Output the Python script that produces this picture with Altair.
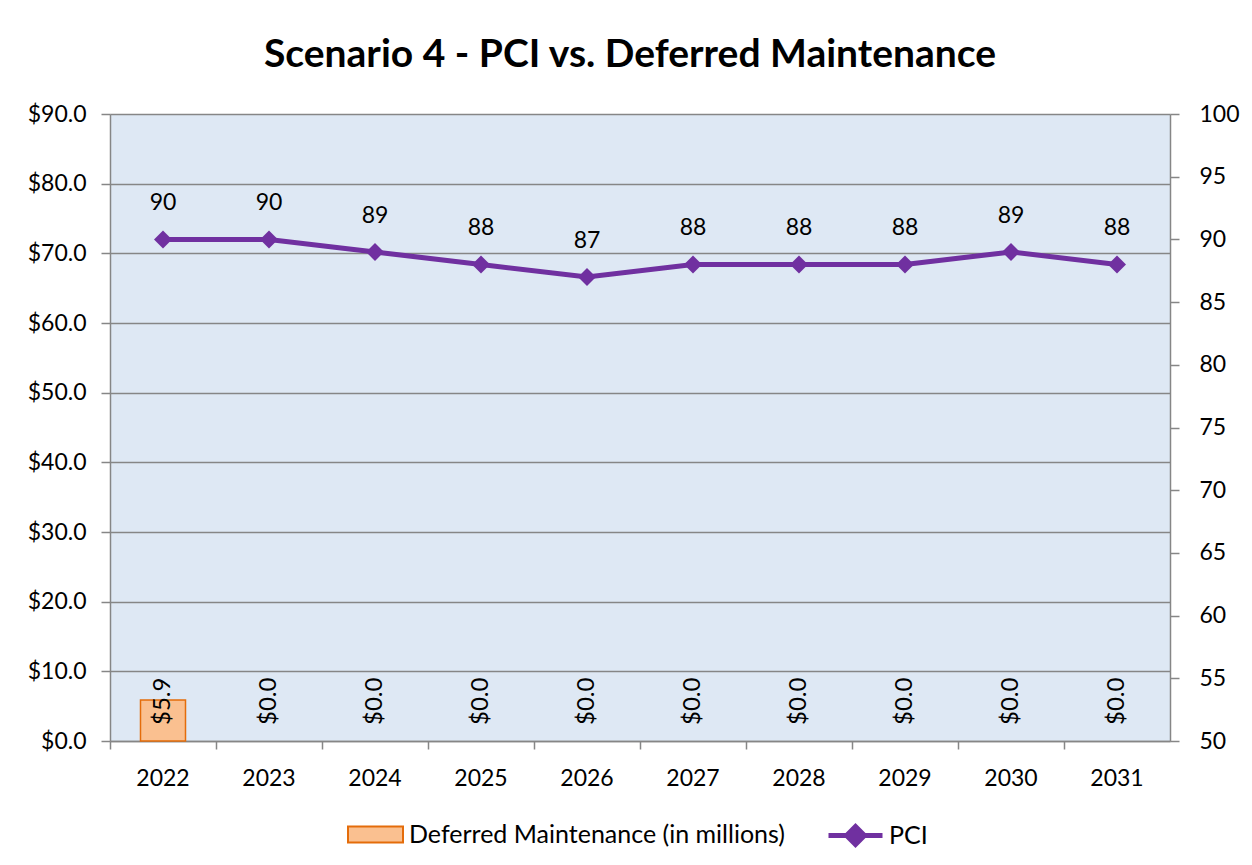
import altair as alt
import pandas as pd

years = ["2022", "2023", "2024", "2025", "2026", "2027", "2028", "2029", "2030", "2031"]
deferred = [5.9, 0.0, 0.0, 0.0, 0.0, 0.0, 0.0, 0.0, 0.0, 0.0]
pci = [90, 90, 89, 88, 87, 88, 88, 88, 89, 88]
bar_name = "Deferred Maintenance (in millions)"
line_name = "PCI"

df = pd.DataFrame({
    "year": years,
    "deferred": deferred,
    "pci": pci,
    "bar_series": [bar_name] * len(years),
    "line_series": [line_name] * len(years),
})
df["deferred_label"] = df["deferred"].map(lambda v: f"${v:.1f}")

FONT = "Lato"
FS = 23
GRID = "#868686"
ORANGE_FILL = "#FAC090"
ORANGE_LINE = "#E46C0A"
PURPLE = "#7030A0"

x_enc = alt.X("year:N", sort=years, title=None,
              scale=alt.Scale(paddingInner=0, paddingOuter=0),
              axis=alt.Axis(labelAngle=0, labelFontSize=FS, labelFont=FONT, labelColor="black",
                            labelPadding=18, domainColor=GRID, tickColor=GRID, tickSize=8,
                            bandPosition=0, grid=False, domainWidth=1.5, tickWidth=1.5))

y_left = alt.Y("deferred:Q", title=None,
               scale=alt.Scale(domain=[0, 90], nice=False),
               axis=alt.Axis(orient="left", values=list(range(0, 91, 10)), format="$.1f",
                             labelFontSize=FS, labelFont=FONT, labelColor="black", labelPadding=15,
                             domainColor=GRID, tickColor=GRID, tickSize=9, grid=True,
                             gridColor=GRID, gridWidth=1.5, domainWidth=1.5, tickWidth=1.5))

bars = alt.Chart(df).mark_bar(size=45, stroke=ORANGE_LINE, strokeWidth=1.5).encode(
    x=x_enc,
    y=y_left,
    strokeOpacity=alt.condition("datum.deferred > 0", alt.value(1), alt.value(0)),
    fill=alt.Fill("bar_series:N", scale=alt.Scale(domain=[bar_name], range=[ORANGE_FILL]),
                  legend=alt.Legend(title=None, orient="none", legendX=237, legendY=692,
                                    symbolType="M-1,-0.29H1V0.29H-1Z", symbolSize=3025,
                                    symbolStrokeColor=ORANGE_LINE, symbolStrokeWidth=2,
                                    labelFontSize=25, labelFont=FONT, labelColor="black",
                                    labelOffset=5, labelLimit=0)),
)

bar_text = alt.Chart(df).mark_text(angle=270, align="left", baseline="middle", dx=16,
                                   fontSize=24, font=FONT, color="black").encode(
    x=alt.X("year:N", sort=years),
    y=alt.YDatum(0),
    text="deferred_label:N",
)

left = alt.layer(bars, bar_text)

y_right_scale = alt.Scale(domain=[50, 100], nice=False)
right_axis = alt.Axis(orient="right", values=list(range(50, 101, 5)),
                      labelFontSize=FS, labelFont=FONT, labelColor="black", labelPadding=20,
                      domainColor=GRID, tickColor=GRID, tickSize=9, grid=False,
                      domainWidth=1.5, tickWidth=1.5)
y_right = alt.Y("pci:Q", title=None, scale=y_right_scale, axis=right_axis)

line = alt.Chart(df).mark_line(strokeWidth=5).encode(
    x=alt.X("year:N", sort=years),
    y=y_right,
    stroke=alt.Stroke("line_series:N", scale=alt.Scale(domain=[line_name], range=[PURPLE]),
                      legend=alt.Legend(title=None, orient="none", legendX=716, legendY=692,
                                        symbolType="M-1,0H1M-0.33,0L0,-0.33L0.33,0L0,0.33Z",
                                        symbolSize=2916, symbolFillColor=PURPLE,
                                        symbolStrokeColor=PURPLE, symbolStrokeWidth=5,
                                        labelFontSize=25, labelFont=FONT, labelColor="black",
                                        labelOffset=4, labelLimit=0)),
)
points = alt.Chart(df).mark_point(shape="diamond", filled=True, size=324, color=PURPLE, opacity=1).encode(
    x=alt.X("year:N", sort=years),
    y=y_right,
)
pci_text = alt.Chart(df).mark_text(dy=-36, baseline="middle", fontSize=FS, font=FONT, color="black").encode(
    x=alt.X("year:N", sort=years),
    y=y_right,
    text="pci:Q",
)
right = alt.layer(line, points, pci_text)

chart = alt.layer(left, right).resolve_scale(y="independent").properties(
    width=1060,
    height=627,
    autosize=alt.AutoSizeParams(type="none"),
    padding={"left": 102, "top": 106, "right": 74, "bottom": 108},
    title=alt.Title("Scenario 4 - PCI vs. Deferred Maintenance", fontSize=39, fontWeight="bold",
                    font=FONT, color="black", anchor="middle", offset=28, dx=-10),
).configure(background="white").configure_view(fill="#DEE8F4", stroke=None)

chart.save("out.html", embed_options={"renderer": "svg", "actions": False})
